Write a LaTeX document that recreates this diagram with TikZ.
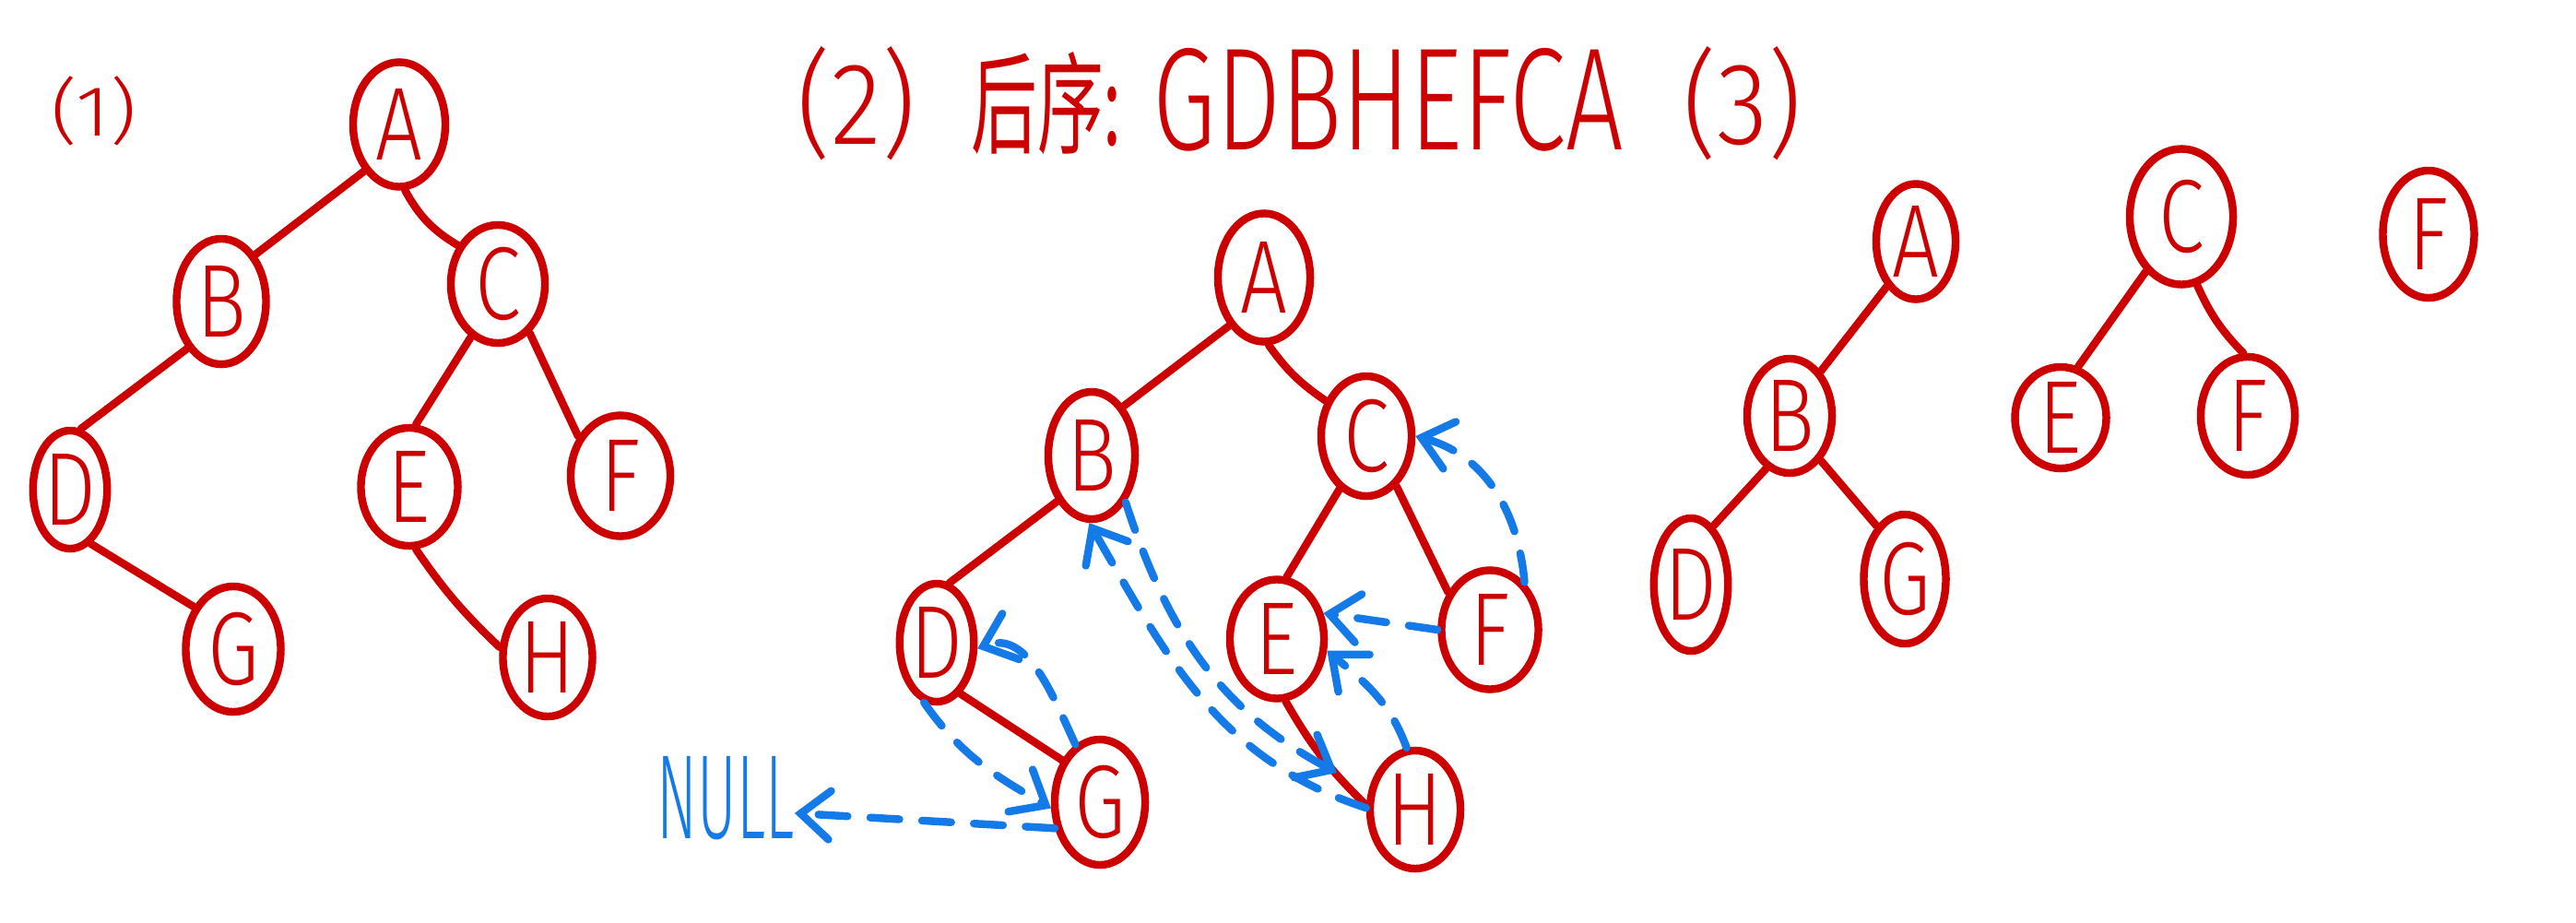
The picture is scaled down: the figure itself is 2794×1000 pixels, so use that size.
\documentclass[tikz,border=0pt]{standalone}
\usepackage{fontspec}
\setmainfont{Fira Sans Light}
\newfontfamily\cjk{Noto Sans CJK SC}
\usepackage{graphicx}
\usetikzlibrary{shapes.geometric,arrows.meta}
\definecolor{myred}{RGB}{204,0,0}
\definecolor{myblue}{RGB}{20,122,232}
\newcommand\hwl[1]{\scalebox{0.8}[1]{#1}}
\begin{document}
\begin{tikzpicture}[x=0.01cm,y=-0.01cm,
  nd/.style 2 args={ellipse, draw=myred, line width=2.4pt, minimum width=#1cm, minimum height=#2cm, inner sep=0pt, text=myred, font=\fontsize{32}{32}\selectfont},
  redline/.style={draw=myred, line width=2.4pt, line cap=round},
  thr/.style={draw=myblue, line width=2.4pt, line cap=round, dash pattern=on 9pt off 7pt, -{Straight Barb[length=9pt,width=15pt,line cap=round]}},
  lbl/.style={text=myred, inner sep=0pt}]
\fill[white] (0,0) rectangle (2794,1000);
\useasboundingbox (0,0) rectangle (2794,1000);

% ---- texts ----
\node[lbl, font=\fontsize{22}{22}\selectfont] (t1) at (102,120) {\scalebox{1.15}[1]{(1)}};
\node[lbl, font=\fontsize{36}{36}\selectfont] (t2) at (929,112) {\scalebox{0.9}[1]{(2)}};
\node[lbl, font=\cjk\fontsize{34}{34}\selectfont] (t3) at (1135,112) {\scalebox{0.6}[1]{后序:}};
\node[lbl, font=\fontsize{45}{45}\selectfont] (t4) at (1506,108) {\scalebox{0.70}[1]{GDBHEFCA}};
\node[lbl, font=\fontsize{36}{36}\selectfont] (t5) at (1890,112) {\scalebox{0.9}[1]{(3)}};

% ---- tree 1 ----
\node[nd={1.00}{1.35}] (a1) at (433,135) {\hwl{A}};
\node[nd={0.97}{1.36}] (b1) at (240,327) {\hwl{B}};
\node[nd={1.02}{1.28}] (c1) at (540,308) {\hwl{C}};
\node[nd={0.77}{1.28}] (d1) at (76,531) {\hwl{D}};
\node[nd={1.05}{1.28}] (e1) at (444,528) {\hwl{E}};
\node[nd={1.08}{1.31}] (f1) at (673,516) {\hwl{F}};
\node[nd={1.03}{1.36}] (g1) at (253,704) {\hwl{G}};
\node[nd={0.97}{1.28}] (h1) at (594,713) {\hwl{H}};
\draw[redline] (a1.233) -- (b1.54);
\draw[redline] (a1.-85) to[bend right=15] (c1.136);
\draw[redline] (b1.234) -- (d1.80);
\draw[redline] (d1.-69) -- (g1.133);
\draw[redline] (c1.243) -- (e1.84);
\draw[redline] (c1.-57) -- (f1.137);
\draw[redline] (e1.-84) to[bend right=6] (h1.168);

% ---- tree 2 ----
\node[nd={1.00}{1.39}] (a2) at (1371,301) {\hwl{A}};
\node[nd={0.94}{1.38}] (b2) at (1184,494) {\hwl{B}};
\node[nd={0.98}{1.30}] (c2) at (1482,473) {\hwl{C}};
\node[nd={0.77}{1.28}] (d2) at (1016,697) {\hwl{D}};
\node[nd={1.02}{1.29}] (e2) at (1385,693) {\hwl{E}};
\node[nd={1.05}{1.29}] (f2) at (1616,683) {\hwl{F}};
\node[nd={0.98}{1.36}] (g2) at (1193,870) {\hwl{G}};
\node[nd={0.98}{1.28}] (h2) at (1535,878) {\hwl{H}};
\draw[redline] (a2.234) -- (b2.57);
\draw[redline] (a2.-86) to[bend right=10] (c2.139);
\draw[redline] (b2.233) -- (d2.78);
\draw[redline] (d2.-65) -- (g2.132);
\draw[redline] (c2.243) -- (e2.81);
\draw[redline] (c2.-59) -- (f2.138);
\draw[redline] (e2.-82) to[bend right=8] (h2.175);

% ---- threads ----
\node[text=myblue, inner sep=0pt, font=\fontsize{37}{37}\selectfont] (null) at (787,866) {\scalebox{0.5}[1]{NULL}};
\coordinate (bh) at (1450,838);
\draw[thr] (g2.210) -- (null.-12);
\draw[thr] (g2.113) to[out=115,in=20] (d2.-8);
\draw[thr] (d2.258) to[out=-55,in=150] (g2.187);
\draw[thr] (b2.-54) to[out=-72,in=152] (bh);
\draw[thr] (h2.178) to[out=162,in=-60] (b2.268);
\draw[thr] (h2.98) to[out=110,in=-40] (e2.-13);
\draw[thr] (f2.180) -- (e2.29);
\draw[thr] (f2.54) to[out=95,in=-15] (c2.0);

% ---- tree 3 ----
\node[nd={0.86}{1.25}] (a3) at (2078,262) {\hwl{A}};
\node[nd={0.92}{1.24}] (b3) at (1941,451) {\hwl{B}};
\node[nd={0.79}{1.44}] (d3) at (1834,634) {\hwl{D}};
\node[nd={0.89}{1.40}] (g3) at (2066,628) {\hwl{G}};
\node[nd={1.12}{1.47}] (c3) at (2366,235) {\hwl{C}};
\node[nd={0.99}{1.10}] (e3) at (2235,453) {\hwl{E}};
\node[nd={1.02}{1.28}] (f3) at (2438,451) {\hwl{F}};
\node[nd={0.99}{1.38}] (f4) at (2634,254) {\hwl{F}};
\draw[redline] (a3.237) -- (b3.55);
\draw[redline] (b3.246) -- (d3.69);
\draw[redline] (b3.-55) -- (g3.118);
\draw[redline] (c3.237) -- (e3.71);
\draw[redline] (c3.-77) to[bend right=10] (f3.94);
\end{tikzpicture}
\end{document}
